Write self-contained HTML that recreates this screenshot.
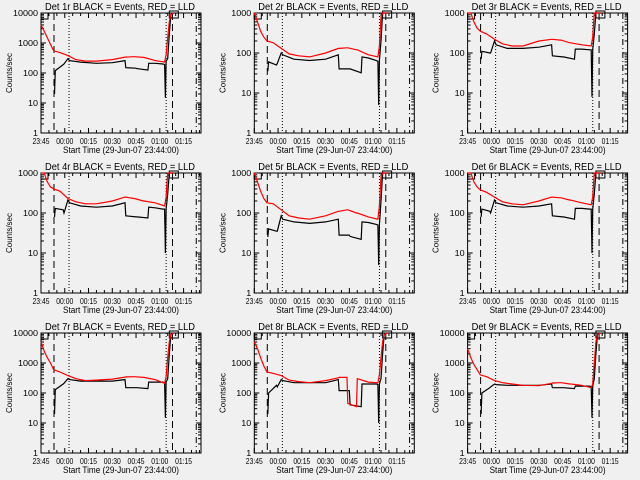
<!DOCTYPE html>
<html><head><meta charset="utf-8"><style>
html,body{margin:0;padding:0;background:#f0f0f0;}
svg{display:block;font-family:"Liberation Sans",sans-serif;}
</style></head><body>
<svg id="chart" width="640" height="480" viewBox="0 0 640 480"></svg>
<script>
const panelTitles=["Det 1r","Det 2r","Det 3r","Det 4r","Det 5r","Det 6r","Det 7r","Det 8r","Det 9r"];
const panelDecades=[4,3,3,3,3,3,4,4,4];
const xTickLabels=["23:45","00:00","00:15","00:30","00:45","01:00","01:15"];
const xTickMinutes=[0,15,30,45,60,75,90];
const yTickValues=[1,10,100,1000,10000];
const yTickLabels=["1","10","100","1000","10000"];
const vLineMinutes=[8.2,17.7,79,83,98];
const vLineStyles=["dashed","dotted","dotted","dashed","dashdot"];
const redTimes=[0,2,4,6,8,12,17,22,28,35,45,53,53.5,58.5,59,64.5,65,72,78,79,80,81,82,84];
const redValues=[
[4000,2500,1500,900,550,480,380,280,250,250,280,340,340,350,350,330,330,260,230,400,1500,5000,9000,12000],
[1000,600,350,250,200,180,130,95,85,80,100,130,130,135,135,120,120,90,80,150,800,1200,1200,1200],
[1200,1100,600,420,350,300,220,170,150,150,200,220,220,210,210,180,180,160,150,250,1200,1200,1200,1200],
[1200,1000,600,450,400,350,230,190,170,170,200,250,250,230,230,200,200,180,150,250,1200,1200,1200,1200],
[1000,600,350,230,180,170,120,85,75,70,85,110,110,120,120,100,100,80,70,150,800,1200,1200,1200],
[1200,1000,600,450,380,330,250,190,170,160,200,250,250,240,240,210,210,180,160,250,1200,1200,1200,1200],
[5000,2500,1500,1000,600,500,380,300,260,270,290,340,345,350,350,330,330,280,210,350,1500,5000,9000,12000],
[5000,3000,1500,800,500,450,380,270,240,220,260,320,330,330,45,35,300,230,220,400,1500,5000,9000,12000],
[3000,1500,900,600,400,350,260,220,200,180,175,210,215,220,220,200,200,180,150,200,1000,5000,9000,12000]];
const blackTimes=[8.5,9,14,14.5,17,18,25,35,45,53,53.5,60,60.5,67.5,68,72,77,78,78.5,79,80,81,82,84];
const blackValues=[
[20,120,190,200,300,260,230,210,220,260,150,145,140,125,210,210,200,190,15,250,300,2000,9000,12000],
[35,60,50,55,100,90,70,65,70,90,40,40,40,32,80,75,65,62,5,65,200,1200,1200,1200],
[70,110,100,100,200,160,130,130,140,160,85,80,80,70,125,125,120,120,8,120,300,1200,1200,1200],
[80,130,120,100,210,180,150,140,150,180,85,80,80,75,140,135,125,125,10,125,300,1200,1200,1200],
[25,40,35,35,85,70,60,55,60,70,28,28,26,22,60,58,52,50,5,50,200,1200,1200,1200],
[80,125,110,100,210,180,150,140,150,170,85,80,80,70,130,130,125,125,10,125,300,1200,1200,1200],
[20,130,200,210,300,280,250,250,250,280,150,150,150,140,230,230,230,220,15,230,300,2000,9000,12000],
[20,100,180,160,280,260,220,220,220,280,120,120,40,35,200,200,200,190,10,200,300,2000,9000,12000],
[20,100,150,160,200,190,180,180,180,200,150,150,150,140,170,170,170,160,15,170,300,2000,9000,12000]];

const NS="http://www.w3.org/2000/svg";
const svg=document.getElementById("chart");
const PL=41,PR=201,PT=13,PB=133,XMIN=0,XMAX=101;
function mk(tag,attrs,parent){const e=document.createElementNS(NS,tag);for(const k in attrs)e.setAttribute(k,attrs[k]);parent.appendChild(e);return e;}
function xS(t){return PL+(t-XMIN)/(XMAX-XMIN)*(PR-PL);}
function yS(v,dec){return Math.max(PT,PB-(Math.log10(v))/dec*(PB-PT));}
const dashMap={dashed:"7,4",dotted:"1,2",dashdot:"6,3,1,3"};
for(let i=0;i<9;i++){
  const c=i%3,r=Math.floor(i/3),dec=panelDecades[i];
  const g=mk("g",{transform:`translate(${(c*213.3).toFixed(1)},${r*160})`},svg);
  
  
  const t=mk("text",{x:45,y:10,"font-size":"10",textLength:150,lengthAdjust:"spacingAndGlyphs"},g);t.textContent=panelTitles[i]+" BLACK = Events, RED = LLD";
  
  
  const fr=mk("rect",{x:PL,y:PT,width:PR-PL,height:PB-PT,fill:"none",stroke:"#000","stroke-width":1},g);
  
  
  for(let d=0;d<dec;d++)for(let m=1;m<10;m++){const v=Math.pow(10,d)*m;const y=yS(v,dec);const L=m==1?5:3;
    mk("line",{x1:PL,x2:PL+L,y1:y,y2:y,stroke:"#000"},g);mk("line",{x1:PR,x2:PR-L,y1:y,y2:y,stroke:"#000"},g);}
  yTickValues.slice(0,dec+1).forEach((v,k)=>{const tx=mk("text",{x:PL-3,y:yS(v,dec)+3,"text-anchor":"end","font-size":"8",textLength:5*yTickLabels[k].length,lengthAdjust:"spacingAndGlyphs"},g);tx.textContent=yTickLabels[k];
    
    });
  for(let m=0;m<=100;m+=5){const x=xS(m);const L=m%15==0?5:3;mk("line",{x1:x,x2:x,y1:PB,y2:PB-L,stroke:"#000"},g);mk("line",{x1:x,x2:x,y1:PT,y2:PT+L,stroke:"#000"},g);}
  xTickMinutes.forEach((m,k)=>{const tx=mk("text",{x:xS(m)-8.5,y:144,"font-size":"8",textLength:17,lengthAdjust:"spacingAndGlyphs"},g);tx.textContent=xTickLabels[k];
    
    });
  const xt=mk("text",{x:63,y:153,"font-size":"9",textLength:116,lengthAdjust:"spacingAndGlyphs"},g);xt.textContent="Start Time (29-Jun-07 23:44:00)";
  
  
  const yt=mk("text",{x:-20,y:0,"font-size":"8",textLength:40,lengthAdjust:"spacingAndGlyphs",transform:"translate(12,73) rotate(-90)"},g);yt.textContent="Counts/sec";
  
  
  vLineMinutes.forEach((m,k)=>{const l=mk("line",{x1:xS(m),x2:xS(m),y1:PT,y2:PB,stroke:"#000","stroke-dasharray":dashMap[vLineStyles[k]]},g);
    
    });
  const bx1=mk("rect",{x:PL,y:PT,width:7,height:6,fill:"none",stroke:"#000"},g);
  
  
  const bx2=mk("rect",{x:xS(81),y:PT-2,width:9,height:7,fill:"none",stroke:"#000"},g);
  
  
  const bl=mk("polyline",{points:blackTimes.map((m,k)=>xS(m).toFixed(1)+","+yS(blackValues[i][k],dec).toFixed(1)).join(" "),fill:"none",stroke:"#000","stroke-width":1.2},g);
  
  
  const rd=mk("polyline",{points:redTimes.map((m,k)=>xS(m).toFixed(1)+","+yS(redValues[i][k],dec).toFixed(1)).join(" "),fill:"none",stroke:"#ff0000","stroke-width":1.2},g);
  
  
}
</script>
</body></html>
